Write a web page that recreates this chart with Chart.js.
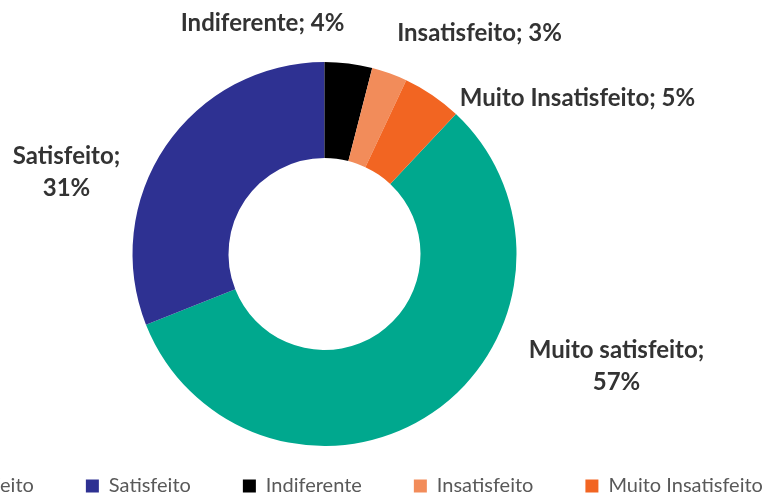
<!DOCTYPE html>
<html>
<head>
<meta charset="utf-8">
<script src="https://cdn.jsdelivr.net/npm/chart.js@4/dist/chart.umd.min.js"></script>
<style>
  html, body { margin: 0; padding: 0; background: #ffffff; overflow: hidden; width: 764px; height: 496px; }
  #wrap { position: absolute; left: -179px; top: 0px; width: 1150px; height: 520px; }
</style>
</head>
<body>
<div id="wrap"><canvas id="c" width="1150" height="520"></canvas></div>
<script>
const categories = ["Muito satisfeito", "Satisfeito", "Indiferente", "Insatisfeito", "Muito Insatisfeito"];
const percentages = [57, 31, 4, 3, 5];
const colors = ["#00A88E", "#2E3192", "#000000", "#F28C5A", "#F26522"];

// label text split into lines, and label offsets from the doughnut centre (annotation placement)
const labelLines = [
  ["Muito satisfeito;", "57%"],
  ["Satisfeito;", "31%"],
  ["Indiferente; 4%"],
  ["Insatisfeito; 3%"],
  ["Muito Insatisfeito; 5%"]
];
const labelOffsets = [[292, 112], [-258, -82], [-62, -231], [155, -221], [253, -156]];

const labelPlugin = {
  id: 'sliceLabels',
  afterDatasetsDraw(chart) {
    const ctx = chart.ctx;
    const meta = chart.getDatasetMeta(0);
    ctx.save();
    ctx.font = 'bold 24px Lato, "Liberation Sans", sans-serif';
    ctx.fillStyle = '#333333';
    ctx.textAlign = 'center';
    ctx.textBaseline = 'middle';
    const lh = 32;
    meta.data.forEach((arc, i) => {
      const lines = labelLines[i];
      const cx = arc.x + labelOffsets[i][0];
      const cy = arc.y + labelOffsets[i][1];
      const y0 = cy - (lines.length - 1) * lh / 2;
      lines.forEach((t, k) => ctx.fillText(t, cx, y0 + k * lh));
    });
    ctx.restore();
  }
};

new Chart(document.getElementById('c'), {
  type: 'doughnut',
  data: {
    labels: categories,
    datasets: [{
      data: percentages,
      backgroundColor: colors,
      borderWidth: 0
    }]
  },
  options: {
    responsive: false,
    animation: false,
    rotation: 43.2,
    radius: 192,
    cutout: '50%',
    layout: { padding: { top: 84, bottom: 14, left: 0, right: 143 } },
    plugins: {
      tooltip: { enabled: false },
      legend: {
        position: 'bottom',
        align: 'start',
        labels: {
          boxWidth: 13,
          boxHeight: 13,
          padding: 52,
          color: '#595959',
          font: { family: 'Lato', size: 20 }
        }
      }
    }
  },
  plugins: [labelPlugin]
});
</script>
</body>
</html>
